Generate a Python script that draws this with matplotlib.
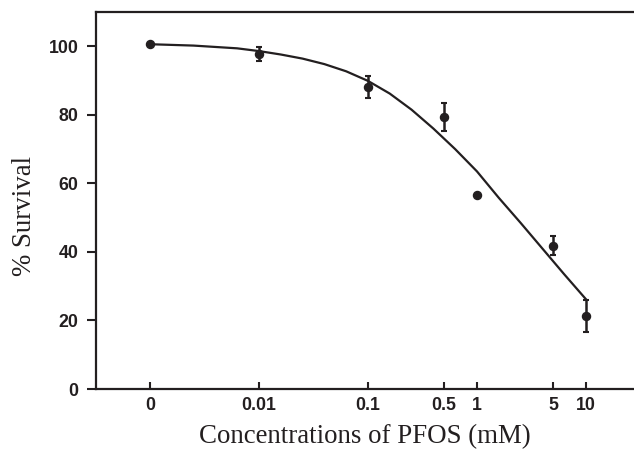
import matplotlib
matplotlib.use("Agg")
import matplotlib.pyplot as plt
import numpy as np

# concentrations in mM; "0" is drawn at the 0.001 slot of the log axis
conc_labels = ['0', '0.01', '0.1', '0.5', '1', '5', '10']
conc_pos = [0.001, 0.01, 0.1, 0.5, 1, 5, 10]
survival = [100.6, 97.8, 88.1, 79.4, 56.7, 41.8, 21.3]
survival_err = [0.0, 2.0, 3.3, 4.0, 0.0, 2.7, 4.8]

# fitted dose-response curve (log10 of concentration)
curve_logx = [-3.0, -2.6, -2.2, -2.0, -1.8, -1.6, -1.4, -1.2, -1.0, -0.8,
              -0.6, -0.4, -0.2, 0.0, 0.2, 0.4, 0.6, 0.8, 1.0]
curve_y = [100.6, 100.2, 99.4, 98.6, 97.6, 96.4, 94.8, 92.7, 89.9, 86.2,
           81.5, 76.0, 70.0, 63.5, 55.8, 48.5, 41.0, 33.5, 26.2]

ink = '#231f20'

fig = plt.figure(figsize=(6.34, 4.5), dpi=100)
ax = fig.add_axes([96/634, 1 - 389/450, 1 - 96/634, (389 - 12)/450])

ax.plot(10 ** np.array(curve_logx), curve_y, color=ink, lw=1.6, zorder=2)
ax.errorbar(conc_pos, survival, yerr=survival_err, fmt='o', color=ink,
            ms=5.8, elinewidth=1.8, capsize=2.5, capthick=1.5, zorder=3)

ax.set_xscale('log')
ax.set_xlim(10 ** -3.495, 10 ** 1.441)
ax.set_ylim(0, 110)
ax.set_xticks(conc_pos)
ax.set_xticklabels(conc_labels)
ax.minorticks_off()
ax.set_yticks([0, 20, 40, 60, 80, 100])

for s in ['left', 'bottom', 'top']:
    ax.spines[s].set_linewidth(1.6)
    ax.spines[s].set_color(ink)
ax.spines['right'].set_visible(False)

ax.tick_params(axis='x', direction='in', length=5, width=1.5, colors=ink,
               pad=6, labelsize=12.8)
ax.tick_params(axis='y', direction='out', length=6.5, width=1.5, colors=ink,
               pad=6, labelsize=12.8)
for lab in ax.get_xticklabels() + ax.get_yticklabels():
    lab.set_family('Liberation Sans')
    lab.set_fontweight('bold')

ax.set_xlabel('Concentrations of PFOS (mM)', family='Liberation Serif',
              fontsize=19.4, color=ink, labelpad=7)
ax.set_ylabel('% Survival', family='Liberation Serif', fontsize=19.4,
              color=ink)
ax.yaxis.set_label_coords(-0.109, 0.46)

fig.savefig('out.png', dpi=100)
